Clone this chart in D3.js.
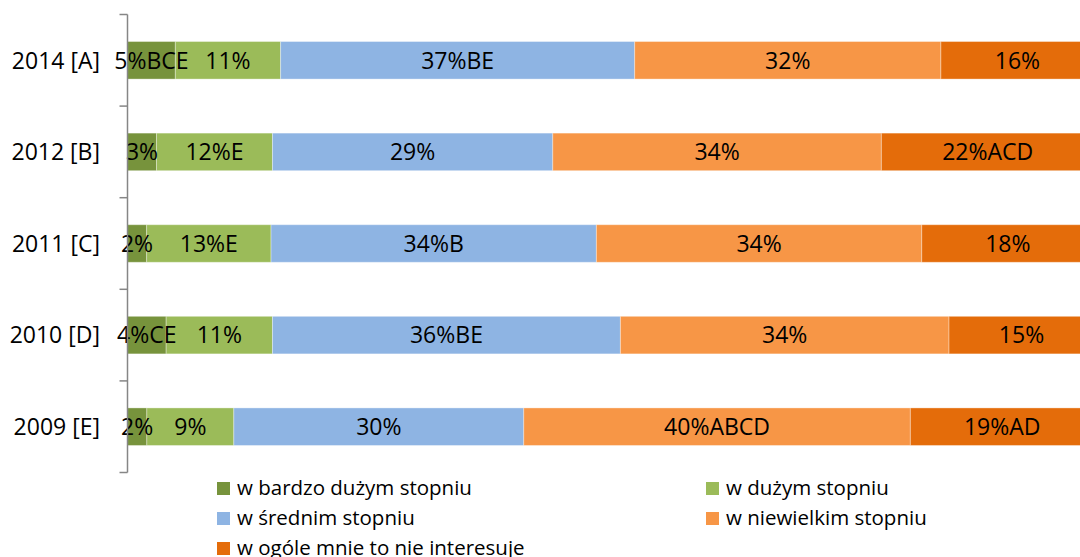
<!DOCTYPE html>
<html><head><meta charset="utf-8">
<script src="https://cdn.jsdelivr.net/npm/d3@7"></script>
<style>body{margin:0;background:#fff}svg{display:block}text{font-family:"Open Sans",Lato,sans-serif}</style>
</head><body><svg id="c" width="1080" height="557"></svg>
<script>
const categories = ["2014 [A]", "2012 [B]", "2011 [C]", "2010 [D]", "2009 [E]"];
const seriesNames = ["w bardzo dużym stopniu", "w dużym stopniu", "w średnim stopniu", "w niewielkim stopniu", "w ogóle mnie to nie interesuje"];
const bardzoDuzym = [5, 3, 2, 4, 2];
const duzym = [11, 12, 13, 11, 9];
const srednim = [37, 29, 34, 36, 30];
const niewielkim = [32, 34, 34, 34, 40];
const wOgole = [16, 22, 18, 15, 19];
const suffixBardzo = ["BCE", "", "", "CE", ""];
const suffixDuzym = ["", "E", "E", "", ""];
const suffixSrednim = ["BE", "", "B", "BE", ""];
const suffixNiewielkim = ["", "", "", "", "ABCD"];
const suffixOgole = ["", "ACD", "", "", "AD"];
const colors = ["#77933C", "#9BBB59", "#8EB4E3", "#F79646", "#E46C0A"];

const series = [bardzoDuzym, duzym, srednim, niewielkim, wOgole];
const suffixes = [suffixBardzo, suffixDuzym, suffixSrednim, suffixNiewielkim, suffixOgole];

const table = categories.map((c, i) => { const o = {cat: c}; series.forEach((s, k) => o[k] = s[i]); return o; });
const stacked = d3.stack().keys(d3.range(series.length)).offset(d3.stackOffsetExpand)(table);

const svg = d3.select("#c");
const x = d3.scaleLinear().domain([0, 1]).range([127.5, 1094]);
const y = d3.scaleBand().domain(categories).range([14.5, 472.5]).paddingInner(0.59).paddingOuter(0.295);

const g = svg.append("g");
const layers = g.selectAll("g.layer").data(stacked).enter().append("g").attr("class", "layer");
layers.selectAll("rect").data(d => d.map(p => ({p, k: d.key}))).enter().append("rect")
  .attr("x", d => x(d.p[0])).attr("y", d => y(d.p.data.cat))
  .attr("width", d => x(d.p[1]) - x(d.p[0])).attr("height", y.bandwidth())
  .attr("fill", d => colors[d.k]).attr("stroke", "#fff").attr("stroke-opacity", 0.35).attr("stroke-width", 1);
const labG = svg.append("g");
stacked.forEach(layer => {
  labG.selectAll(null).data(layer).enter().append("text")
    .attr("x", p => (x(p[0]) + x(p[1])) / 2).attr("y", p => y(p.data.cat) + y.bandwidth() / 2)
    .attr("dy", "0.36em").attr("text-anchor", "middle").attr("font-size", 23).attr("fill", "#000")
    .text((p, i) => p.data[layer.key] + "%" + suffixes[layer.key][i]);
});

// axis
const ax = svg.append("g").attr("transform", "translate(127.5,0)");
ax.append("line").attr("y1", 14.5).attr("y2", 472.5).attr("stroke", "#868686").attr("stroke-width", 1.5);
const tickPos = d3.range(6).map(i => 14.5 + i * (458 / 5));
ax.selectAll(null).data(tickPos).enter().append("line")
  .attr("x1", -8).attr("x2", 0).attr("y1", d => d).attr("y2", d => d).attr("stroke", "#868686").attr("stroke-width", 1.5);
svg.selectAll(null).data(categories).enter().append("text")
  .attr("x", 100).attr("y", d => y(d) + y.bandwidth() / 2).attr("dy", "0.36em")
  .attr("text-anchor", "end").attr("font-size", 23).attr("fill", "#000").text(d => d);

// legend
const legPos = [[217, 488], [706, 488], [217, 518], [706, 518], [217, 548]];
const leg = svg.selectAll(null).data(seriesNames).enter().append("g")
  .attr("transform", (d, i) => `translate(${legPos[i][0]},${legPos[i][1]})`);
leg.append("rect").attr("x", 0).attr("y", -6).attr("width", 13).attr("height", 13).attr("fill", (d, i) => colors[i]);
leg.append("text").attr("x", 20).attr("y", 0).attr("dy", "0.36em").attr("font-size", 20.5).attr("fill", "#000").text(d => d);
</script></body></html>
